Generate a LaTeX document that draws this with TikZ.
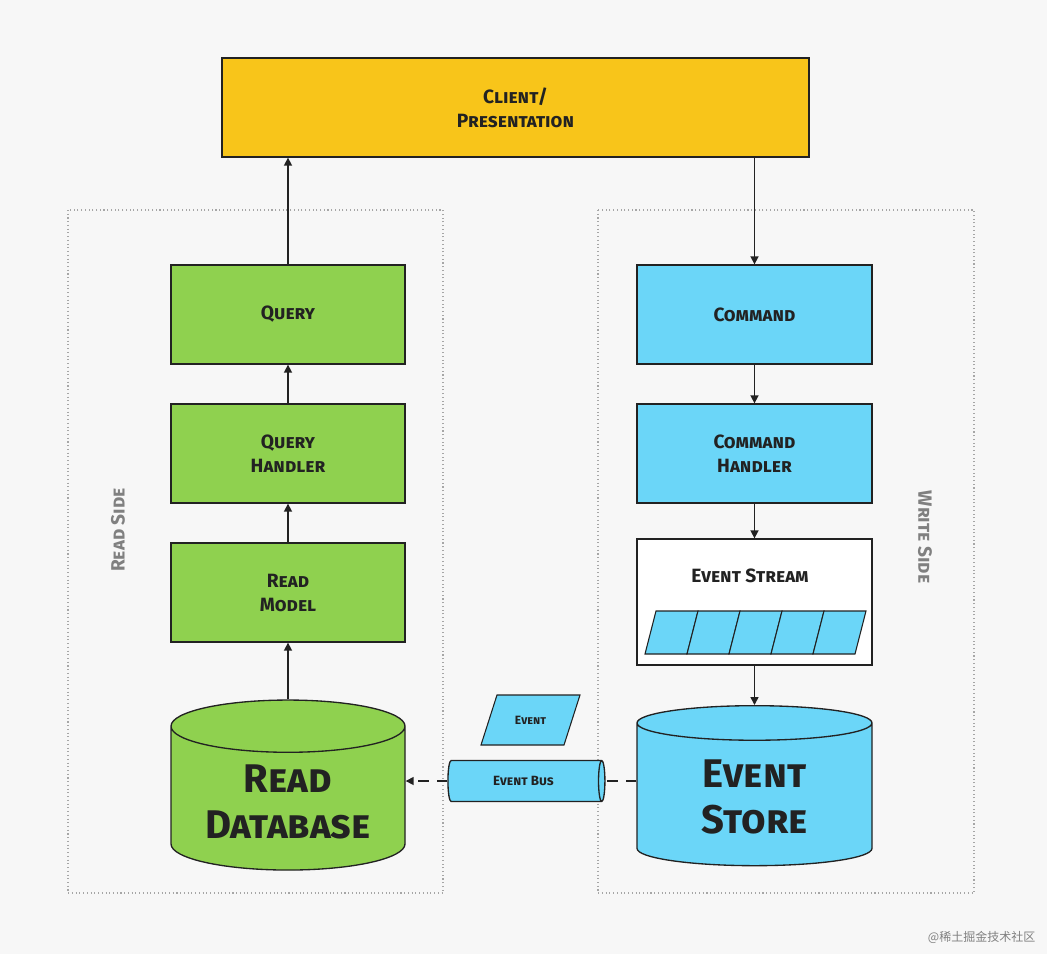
\documentclass[tikz,border=0pt]{standalone}
\usepackage{fontspec}
\setmainfont{Fira Sans}
\newfontfamily\cjk{Noto Sans CJK SC}
\usetikzlibrary{shapes.geometric,arrows.meta}
\definecolor{bg}{HTML}{F7F7F7}
\definecolor{ylw}{HTML}{F8C51A}
\definecolor{grn}{HTML}{8FD14F}
\definecolor{cyn}{HTML}{6BD6F8}
\definecolor{ink}{HTML}{222222}
\begin{document}
\begin{tikzpicture}[x=0.75pt,y=-0.75pt,
  box/.style={draw=ink,line width=1pt,font=\bfseries\scshape\Large,align=center,text=ink},
  arr/.style={draw=ink,line width=1.2pt,-{Triangle[length=6pt,width=6pt]}},
  dsh/.style={dash pattern=on 8pt off 6pt},
  side/.style={draw=gray!70,dotted,line width=0.8pt},
  lbl/.style={text=gray,font=\bfseries\scshape\Large},
  db/.style={cylinder,shape border rotate=90,aspect=0.3,draw=ink,line width=1pt,font=\bfseries\scshape\fontsize{30}{34}\selectfont,align=center,text=ink}]
\fill[bg] (0,0) rectangle (1047,954);
\useasboundingbox (0,0) rectangle (1047,954);
\draw[side] (68,210) rectangle (443,893);
\draw[side] (598,210) rectangle (974,893);
\node[lbl,rotate=90] (rs) at (118,530) {Read Side};
\node[lbl,rotate=-90] (ws) at (925,537) {Write Side};
\node[box,fill=ylw,minimum width=587*0.75pt,minimum height=99*0.75pt] (client) at (515.5,107.5) {Client/\\Presentation};
\foreach \n/\t/\y in {q/Query/314.5,qh/Query\\Handler/453.5,rm/Read\\Model/592.5}
  \node[box,fill=grn,minimum width=234*0.75pt,minimum height=99*0.75pt] (\n) at (288,\y) {\t};
\foreach \n/\t/\y in {c/Command/314.5,ch/Command\\Handler/453.5}
  \node[box,fill=cyn,minimum width=235*0.75pt,minimum height=99*0.75pt] (\n) at (754.5,\y) {\t};
\node[box,fill=white,minimum width=235*0.75pt,minimum height=126*0.75pt] (es) at (754.5,602) {};
\node[font=\bfseries\scshape\Large,text=ink] (est) at (750,576) {Event Stream};
\foreach \i in {0,...,4}
  \draw[fill=cyn,draw=ink,line width=0.8pt] (656+\i*42,611) coordinate (p\i) -- ++(42,0) -- ++(-11,43) -- ++(-42,0) -- cycle;
\node[db,fill=grn,minimum width=234*0.75pt,minimum height=170*0.75pt] (rdb) at (288,802) {Read\\Database};
\node[db,fill=cyn,minimum width=235*0.75pt,minimum height=160*0.75pt] (est2) at (754.5,797) {Event\\Store};
\node[cylinder,shape border rotate=0,aspect=0.35,draw=ink,line width=1pt,fill=cyn,minimum width=41*0.75pt,minimum height=157*0.75pt,font=\bfseries\scshape\normalsize,text=ink] (bus) at (523.5,781) {Event Bus};
\draw[fill=cyn,draw=ink,line width=0.8pt] (497,695) -- (580,695) -- (564,745) -- (481,745) -- cycle;
\node[font=\bfseries\scshape\small,text=ink] (ev) at (530.5,720) {Event};
\draw[arr] (q.north) -- (q.north |- client.south);
\draw[arr] (client.south -| c.north) -- (c.north);
\draw[arr] (qh) -- (q);
\draw[arr] (rm) -- (qh);
\draw[arr] (rdb.north) -- (rm.south);
\draw[arr] (c) -- (ch);
\draw[arr] (ch) -- (es);
\draw[arr] (es.south) -- (est2.north);
\draw[draw=ink,line width=1.2pt,dsh] (est2.west |- bus.east) -- (bus.east);
\draw[arr,dsh] (bus.west) -- (rdb.east |- bus.west);
\node[text=gray,font=\cjk\small,anchor=east] (wm) at (1040,937) {@稀土掘金技术社区};
\end{tikzpicture}
\end{document}
